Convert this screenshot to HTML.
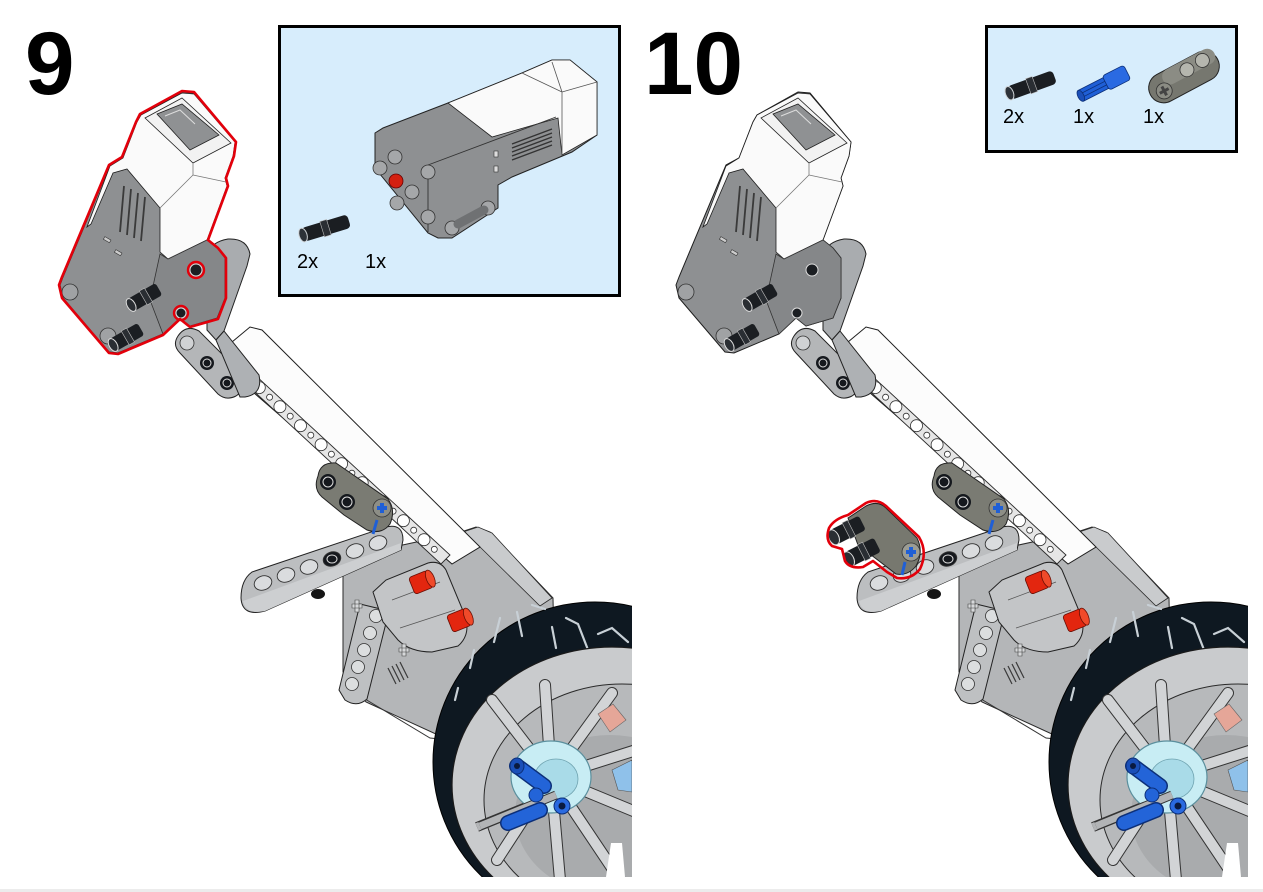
<!DOCTYPE html>
<html><head><meta charset="utf-8">
<style>
html,body{margin:0;padding:0;background:#fff;}
svg{display:block;}
</style></head><body>
<svg width="1263" height="892" viewBox="0 0 1263 892" xmlns="http://www.w3.org/2000/svg" font-family="'Liberation Sans', Arial, sans-serif">
<defs>
<clipPath id="pc"><rect x="0" y="0" width="632" height="877"/></clipPath>
<g id="model">
  <!-- rear housing -->
  <path d="M343,570 L398,546 L458,533 L476,527 L490,532 L553,598 L556,745 L438,735 L366,702 L343,672 Z" fill="#b4b6b8" stroke="#2a2a2a" stroke-width="1"/>
  <path d="M460,533 L478,527 L492,533 L552,598 L540,606 L478,545 Z" fill="#c9cbcd" stroke="#2a2a2a" stroke-width="0.8"/>
  <path d="M350,690 L430,738 L470,742" fill="none" stroke="#333" stroke-width="1"/>
  <!-- white long beam -->
  <path d="M232,342 L250,327 L262,330 L480,547 L452,564 L246,386 Z" fill="#fcfcfc" stroke="#1e1e1e" stroke-width="1"/>
  <!-- perforated strip -->
  <path d="M246,384 L441,564 L450,555 L255,375 Z" fill="#e6e6e6" stroke="#2a2a2a" stroke-width="0.9"/>
  <g fill="#fff" stroke="#333" stroke-width="0.8">
    <circle cx="259.3" cy="387.6" r="6"/><circle cx="279.9" cy="406.7" r="6"/><circle cx="300.5" cy="425.7" r="6"/>
    <circle cx="321.1" cy="444.7" r="6"/><circle cx="341.6" cy="463.7" r="6"/><circle cx="362.2" cy="482.7" r="6"/>
    <circle cx="382.8" cy="501.7" r="6"/><circle cx="403.4" cy="520.7" r="6"/><circle cx="424" cy="539.7" r="6"/>
    <circle cx="269.6" cy="397.2" r="3"/><circle cx="290.2" cy="416.2" r="3"/><circle cx="310.8" cy="435.2" r="3"/>
    <circle cx="331.4" cy="454.2" r="3"/><circle cx="351.9" cy="473.2" r="3"/><circle cx="372.5" cy="492.2" r="3"/>
    <circle cx="393.1" cy="511.2" r="3"/><circle cx="413.7" cy="530.2" r="3"/><circle cx="434.3" cy="549.3" r="3"/>
  </g>
  <!-- 7-hole beam -->
  <path d="M252,572 L386,527 Q403,523 403,540 L401,550 L265,611 Q242,617 241,598 Q241,580 252,572 Z" fill="#bcbec0" stroke="#222" stroke-width="1"/>
  <path d="M243,601 L401,543 L401,550 L265,611 Q246,615 243,601 Z" fill="#cdcfd1"/>
  <g stroke="#333" stroke-width="0.9" fill="#dadcde">
    <ellipse cx="263" cy="583" rx="9" ry="7" transform="rotate(-20 263 583)"/>
    <ellipse cx="286" cy="575" rx="9" ry="7" transform="rotate(-20 286 575)"/>
    <ellipse cx="309" cy="567" rx="9" ry="7" transform="rotate(-20 309 567)"/>
    <ellipse cx="332" cy="559" rx="9" ry="7" transform="rotate(-20 332 559)" fill="#15181d"/>
    <ellipse cx="355" cy="551" rx="9" ry="7" transform="rotate(-20 355 551)"/>
    <ellipse cx="378" cy="543" rx="9" ry="7" transform="rotate(-20 378 543)"/>
  </g>
  <ellipse cx="332" cy="559" rx="5" ry="4" fill="none" stroke="#ddd" stroke-width="1"/>
  <ellipse cx="318" cy="594" rx="7" ry="5" fill="#151515"/>
  <!-- vertical 5-hole beam -->
  <path d="M360,604 L389,611 L367,699 Q357,708 345,700 L339,690 Z" fill="#bec0c2" stroke="#222" stroke-width="1"/>
  <g fill="#dcdedf" stroke="#333" stroke-width="0.8">
    <circle cx="376" cy="616" r="6.5"/><circle cx="370" cy="633" r="6.5"/><circle cx="364" cy="650" r="6.5"/>
    <circle cx="358" cy="667" r="6.5"/><circle cx="352" cy="684" r="6.5"/>
  </g>
  <!-- H piece -->
  <path d="M373,592 L386,580 L428,563 Q440,560 446,570 L466,618 Q470,636 458,646 L432,652 Q410,652 398,640 L383,622 Z" fill="#c3c5c7" stroke="#222" stroke-width="1"/>
  <path d="M392,600 L440,582 M400,628 L455,610" stroke="#555" stroke-width="0.8" fill="none"/>
  <!-- axle stubs -->
  <path d="M352,604 h10 v4 h-10z M355,600 h4 v12 h-4z" fill="#d6d8da" stroke="#444" stroke-width="0.6"/>
  <path d="M399,648 h10 v4 h-10z M402,644 h4 v12 h-4z" fill="#d6d8da" stroke="#444" stroke-width="0.6"/>
  <path d="M388,668 L396,684 M392,666 L400,682 M396,664 L404,680 M400,662 L408,678" stroke="#3a3a3a" stroke-width="1.2"/>
  <!-- red bushes -->
  <g transform="translate(422,582) rotate(-22)"><rect x="-11" y="-9" width="20" height="18" rx="3" fill="#e3260f" stroke="#6a0f05" stroke-width="0.8"/><ellipse cx="9" cy="0" rx="4" ry="9" fill="#f04a2a" stroke="#6a0f05" stroke-width="0.8"/></g>
  <g transform="translate(460,620) rotate(-22)"><rect x="-11" y="-9" width="20" height="18" rx="3" fill="#e3260f" stroke="#6a0f05" stroke-width="0.8"/><ellipse cx="9" cy="0" rx="4" ry="9" fill="#f04a2a" stroke="#6a0f05" stroke-width="0.8"/></g>
  <!-- dark connector -->
  <path d="M318,476 Q320,462 336,463 L388,499 Q396,510 390,524 Q382,535 367,530 L344,515 L322,497 Q313,489 318,476 Z" fill="#7a7b73" stroke="#222" stroke-width="1"/>
  <circle cx="328" cy="482" r="8" fill="#15181d"/><circle cx="328" cy="482" r="5" fill="none" stroke="#ddd" stroke-width="1"/>
  <circle cx="347" cy="502" r="8" fill="#15181d"/><circle cx="347" cy="502" r="5" fill="none" stroke="#ddd" stroke-width="1"/>
  <circle cx="382" cy="508" r="9" fill="#8d8e86" stroke="#333" stroke-width="0.8"/>
  <path d="M377,506 h10 v4 h-10z M380,503 h4 v10 h-4z" fill="#1f5fd6"/>
  <line x1="377" y1="520" x2="373" y2="534" stroke="#1f5fd6" stroke-width="3"/>
  <!-- wheel -->
  <ellipse cx="595" cy="762" rx="162" ry="160" fill="#0e1821" stroke="#000" stroke-width="1"/>
  <g fill="none" stroke="#c8d0d6" stroke-width="2.2" stroke-linecap="round">
    <path d="M494,642 L500,618"/><path d="M517,612 L522,636"/><path d="M552,627 L556,648"/>
    <path d="M566,618 L578,624 L590,655"/><path d="M598,634 L612,628 L628,642"/>
    <path d="M613,673 L618,695"/><path d="M624,700 L629,716"/><path d="M532,605 L545,609"/>
    <path d="M470,668 L474,650"/><path d="M455,700 L458,688"/>
  </g>
  <ellipse cx="612" cy="785" rx="160" ry="138" fill="#c9cbcd" stroke="#1a1a1a" stroke-width="1.2"/>
  <ellipse cx="622" cy="800" rx="138" ry="116" fill="#b7b9bb" stroke="#2a2a2a" stroke-width="1"/>
  <ellipse cx="610" cy="815" rx="95" ry="80" fill="#a9abad"/>
  <g stroke-linecap="round">
    <g stroke="#333" stroke-width="12">
      <line x1="551" y1="777" x2="492" y2="700"/><line x1="551" y1="777" x2="545" y2="685"/>
      <line x1="551" y1="777" x2="612" y2="693"/><line x1="551" y1="777" x2="652" y2="745"/>
      <line x1="551" y1="777" x2="660" y2="822"/><line x1="551" y1="777" x2="620" y2="880"/>
      <line x1="551" y1="777" x2="560" y2="880"/><line x1="551" y1="777" x2="497" y2="860"/>
    </g>
    <g stroke="#d2d4d6" stroke-width="10">
      <line x1="551" y1="777" x2="492" y2="700"/><line x1="551" y1="777" x2="545" y2="685"/>
      <line x1="551" y1="777" x2="612" y2="693"/><line x1="551" y1="777" x2="652" y2="745"/>
      <line x1="551" y1="777" x2="660" y2="822"/><line x1="551" y1="777" x2="620" y2="880"/>
      <line x1="551" y1="777" x2="560" y2="880"/><line x1="551" y1="777" x2="497" y2="860"/>
    </g>
  </g>
  <path d="M606,877 L611,843 L622,843 L625,877 Z" fill="#fff"/>
  <path d="M598,714 L613,704 L626,720 L610,732 Z" fill="#e5a698" stroke="#666" stroke-width="0.6"/>
  <path d="M612,770 L632,760 L632,792 L618,790 Z" fill="#8fc1ea" stroke="#555" stroke-width="0.6"/>
  <!-- axle -->
  <line x1="477" y1="827" x2="556" y2="795" stroke="#333" stroke-width="10"/>
  <line x1="477" y1="827" x2="556" y2="795" stroke="#b2b4b6" stroke-width="8"/>
  <!-- hub -->
  <ellipse cx="551" cy="777" rx="40" ry="36" fill="#c8edf4" stroke="#5b8f9d" stroke-width="1.2"/>
  <ellipse cx="556" cy="779" rx="22" ry="20" fill="#a9dbe8" stroke="#6fa3b0" stroke-width="0.8"/>
  <line x1="480" y1="826" x2="556" y2="795" stroke="#333" stroke-width="9"/>
  <line x1="480" y1="826" x2="556" y2="795" stroke="#b2b4b6" stroke-width="7"/>
  <!-- blue pins -->
  <line x1="517" y1="766" x2="544" y2="786" stroke="#0c2f78" stroke-width="16" stroke-linecap="round"/>
  <line x1="517" y1="766" x2="544" y2="786" stroke="#2364d8" stroke-width="13" stroke-linecap="round"/>
  <ellipse cx="517" cy="766" rx="7" ry="8" fill="#1a4fb8" stroke="#0c2f78"/>
  <circle cx="517" cy="766" r="3" fill="#0a1a40"/>
  <circle cx="536" cy="795" r="7" fill="#2364d8" stroke="#0c2f78"/>
  <line x1="508" y1="823" x2="540" y2="810" stroke="#0c2f78" stroke-width="16" stroke-linecap="round"/>
  <line x1="508" y1="823" x2="540" y2="810" stroke="#2364d8" stroke-width="13" stroke-linecap="round"/>
  <circle cx="562" cy="806" r="8" fill="#2a6ae0" stroke="#0c2f78"/>
  <circle cx="562" cy="806" r="3.5" fill="#0a1a40"/>
  <!-- upright lever and short beam -->
  <path d="M207,256 Q210,242 228,239 Q247,238 250,254 L247,266 L224,331 L216,340 L207,330 Z" fill="#a9acaf" stroke="#222" stroke-width="1"/>
  <path d="M178,336 Q186,324 199,331 L241,373 Q247,389 236,396 Q226,401 218,394 L180,353 Q172,345 178,336 Z" fill="#b4b6b8" stroke="#222" stroke-width="1"/>
  <circle cx="187" cy="343" r="7" fill="#d0d2d4" stroke="#333" stroke-width="0.8"/>
  <circle cx="207" cy="363" r="7" fill="#15181d"/><circle cx="207" cy="363" r="4" fill="none" stroke="#ddd"/>
  <circle cx="227" cy="383" r="7" fill="#15181d"/><circle cx="227" cy="383" r="4" fill="none" stroke="#ddd"/>
  <path d="M216,340 L224,331 L259,375 Q263,394 245,397 L240,397 Z" fill="#aeb1b4" stroke="#222" stroke-width="1"/>
  <!-- motor -->
  <path d="M182,92 L194,93 L235,142 L233,156 L225,178 L227,186 L207,240 L217,248 L225,258 L225,298 L217,318 L190,326 L180,318 L163,334 L118,353 L109,352 L63,298 L60,285 L63,277 L110,165 L123,158 L137,122 L141,115 Z" fill="#8e9092" stroke="#1e1e1e" stroke-width="1"/>
  <path d="M141,115 L182,93 L194,94 L235,142 L233,156 L225,178 L227,186 L207,240 L168,259 L160,252 L160,208 L127,169 L113,173 L91,224 L87,227 L110,166 L123,158 L137,122 Z" fill="#fafafa" stroke="#1e1e1e" stroke-width="0.8"/>
  <path d="M145,118 L182,98 L231,143 L193,163 Z" fill="#f2f2f2" stroke="#222" stroke-width="0.8"/>
  <path d="M157,114 L182,104 L219,135 L190,150 Z" fill="#8f9193" stroke="#222" stroke-width="0.8"/>
  <path d="M165,116 L180,110 L195,124" fill="none" stroke="#ddd" stroke-width="1"/>
  <path d="M193,163 L193,175 L160,208 M193,175 L226,182" fill="none" stroke="#777" stroke-width="0.8"/>
  <path d="M160,254 L168,259 L207,240 L217,248 L225,258 L225,298 L217,318 L190,326 L180,318 L163,334 L150,300 Z" fill="#858789" stroke="#333" stroke-width="0.8"/>
  <g stroke="#3a3a3a" stroke-width="1.8">
    <line x1="124" y1="186" x2="120" y2="232"/><line x1="131" y1="189" x2="127" y2="235"/>
    <line x1="138" y1="193" x2="134" y2="238"/><line x1="145" y1="197" x2="141" y2="241"/>
  </g>
  <rect x="104" y="238" width="7" height="3" fill="#ccc" stroke="#333" stroke-width="0.6" transform="rotate(30 107 239)"/>
  <rect x="115" y="251" width="7" height="3" fill="#ccc" stroke="#333" stroke-width="0.6" transform="rotate(30 118 252)"/>
  <circle cx="70" cy="292" r="8" fill="#a0a2a4" stroke="#333" stroke-width="0.8"/>
  <circle cx="108" cy="336" r="8" fill="#a0a2a4" stroke="#333" stroke-width="0.8"/>
  <g transform="translate(145,297) rotate(-30)"><rect x="-16" y="-7" width="32" height="14" rx="3" fill="#1b1e22"/><rect x="-2" y="-8" width="6" height="16" fill="#2a2e33" stroke="#bbb" stroke-width="0.6"/><ellipse cx="-16" cy="0" rx="4" ry="7" fill="#2a2e33" stroke="#ddd" stroke-width="1"/></g>
  <g transform="translate(127,337) rotate(-30)"><rect x="-16" y="-7" width="32" height="14" rx="3" fill="#1b1e22"/><rect x="-2" y="-8" width="6" height="16" fill="#2a2e33" stroke="#bbb" stroke-width="0.6"/><ellipse cx="-16" cy="0" rx="4" ry="7" fill="#2a2e33" stroke="#ddd" stroke-width="1"/></g>
  <circle cx="196" cy="270" r="6" fill="#1b1e22" stroke="#ddd" stroke-width="1"/>
  <circle cx="181" cy="313" r="5" fill="#1b1e22" stroke="#ddd" stroke-width="1"/>
</g>
</defs>

<!-- step numbers -->
<text x="25" y="94" font-size="89" font-weight="bold" fill="#000">9</text>
<text x="644" y="94" font-size="89" font-weight="bold" fill="#000">10</text>

<!-- panel 9 model -->
<g clip-path="url(#pc)"><use href="#model"/></g>
<!-- panel 10 model -->
<g transform="translate(616,0)" clip-path="url(#pc)"><use href="#model"/></g>

<!-- panel 9 red highlight on motor -->
<path d="M182,91 L194,92 L236,142 L234,156 L226,178 L228,186 L208,240 L218,248 L226,258 L226,298 L218,319 L190,327 L180,319 L163,335 L118,354 L109,353 L62,298 L59,285 L62,277 L109,165 L122,157 L136,122 L140,114 Z" fill="none" stroke="#e3000b" stroke-width="2.6" stroke-linejoin="round"/>
<circle cx="196" cy="270" r="8" fill="none" stroke="#e3000b" stroke-width="2.4"/>
<circle cx="181" cy="313" r="7" fill="none" stroke="#e3000b" stroke-width="2.4"/>

<!-- panel 10 new connector -->
<path d="M848,518 L866,506 Q878,500 886,508 L917,538 Q924,552 916,566 Q908,576 896,574 L858,545 Z" fill="#77786f" stroke="#222" stroke-width="1"/>
<circle cx="911" cy="552" r="9" fill="#9b9c94" stroke="#333" stroke-width="0.8"/>
<path d="M906,550 h10 v4 h-10z M909,547 h4 v10 h-4z" fill="#1f5fd6"/>
<line x1="905" y1="562" x2="902" y2="575" stroke="#1f5fd6" stroke-width="3"/>
<g transform="translate(848,530) rotate(-27)"><rect x="-16" y="-8" width="32" height="16" rx="3" fill="#1b1e22"/><rect x="-2" y="-9" width="6" height="18" fill="#2a2e33" stroke="#bbb" stroke-width="0.6"/><ellipse cx="-16" cy="0" rx="5" ry="8" fill="#2a2e33" stroke="#ddd" stroke-width="1"/></g>
<g transform="translate(863,552) rotate(-27)"><rect x="-16" y="-8" width="32" height="16" rx="3" fill="#1b1e22"/><rect x="-2" y="-9" width="6" height="18" fill="#2a2e33" stroke="#bbb" stroke-width="0.6"/><ellipse cx="-16" cy="0" rx="5" ry="8" fill="#2a2e33" stroke="#ddd" stroke-width="1"/></g>
<path d="M829,528 Q834,519 848,515 L866,503 Q877,498 886,506 L919,537 Q928,552 920,569 Q911,580 897,578 L887,572 L873,561 L863,567 Q850,569 845,561 L842,549 L832,546 Q825,540 829,528 Z" fill="none" stroke="#e3000b" stroke-width="2.6" stroke-linejoin="round"/>

<!-- parts box 1 -->
<rect x="279.5" y="26.5" width="340" height="269" fill="#d7edfc" stroke="#000" stroke-width="3"/>
<path d="M375,133 L383,128 L448,103 L522,73 L552,60 L570,60 L597,82 L597,135 L572,152 L512,177 L498,185 L498,208 L452,238 L438,238 L428,233 L375,168 Z" fill="#8e9092" stroke="#222" stroke-width="1"/>
<path d="M448,103 L522,73 L552,60 L570,60 L597,82 L597,135 L562,155 L558,118 L492,137 Z" fill="#fafafa" stroke="#222" stroke-width="0.8"/>
<path d="M552,62 L562,92 L562,155 M562,92 L597,82 M522,73 L562,92" fill="none" stroke="#555" stroke-width="0.8"/>
<path d="M428,165 L556,117 M428,165 L428,232" fill="none" stroke="#333" stroke-width="0.9"/>
<g stroke="#333" stroke-width="1.4">
  <line x1="512" y1="144" x2="552" y2="129"/><line x1="512" y1="148" x2="552" y2="133"/>
  <line x1="512" y1="152" x2="552" y2="137"/><line x1="512" y1="156" x2="552" y2="141"/>
  <line x1="512" y1="160" x2="552" y2="145"/>
</g>
<rect x="494" y="151" width="4" height="6" fill="#ddd" stroke="#333" stroke-width="0.6"/>
<rect x="494" y="166" width="4" height="6" fill="#ddd" stroke="#333" stroke-width="0.6"/>
<g fill="#a5a7a9" stroke="#333" stroke-width="0.8">
  <circle cx="380" cy="168" r="7"/><circle cx="395" cy="157" r="7"/><circle cx="412" cy="192" r="7"/>
  <circle cx="397" cy="203" r="7"/><circle cx="428" cy="172" r="7"/><circle cx="428" cy="217" r="7"/>
  <circle cx="452" cy="228" r="7"/><circle cx="488" cy="208" r="7"/>
</g>
<circle cx="396" cy="181" r="7" fill="#d42010" stroke="#600" stroke-width="0.8"/>
<path d="M458,224 L484,210" stroke="#6f7173" stroke-width="9" stroke-linecap="round"/>
<g transform="translate(326,228) rotate(-17)"><rect x="-24" y="-7" width="48" height="14" rx="4" fill="#1b1e22"/><rect x="-4" y="-8" width="7" height="16" fill="#2a2e33" stroke="#bbb" stroke-width="0.6"/><ellipse cx="-24" cy="0" rx="4" ry="7" fill="#2d3238" stroke="#cfd3d6" stroke-width="1"/></g>
<text x="297" y="268" font-size="20" fill="#000">2x</text>
<text x="365" y="268" font-size="20" fill="#000">1x</text>

<!-- parts box 2 -->
<rect x="986.5" y="26.5" width="250" height="125" fill="#d7edfc" stroke="#000" stroke-width="3"/>
<g transform="translate(1032,85) rotate(-20)"><rect x="-24" y="-7" width="48" height="14" rx="4" fill="#1b1e22"/><rect x="-4" y="-8" width="7" height="16" fill="#2a2e33" stroke="#bbb" stroke-width="0.6"/><ellipse cx="-24" cy="0" rx="4" ry="7" fill="#2d3238" stroke="#cfd3d6" stroke-width="1"/></g>
<g transform="translate(1104,84) rotate(-27)"><rect x="-26" y="-6" width="30" height="12" fill="#1f5fd6" stroke="#0c2f78" stroke-width="0.8"/><line x1="-24" y1="-2" x2="2" y2="-2" stroke="#0c2f78" stroke-width="0.8"/><line x1="-24" y1="2" x2="2" y2="2" stroke="#0c2f78" stroke-width="0.8"/><rect x="2" y="-8" width="24" height="16" rx="3" fill="#2a6ae2" stroke="#0c2f78" stroke-width="0.8"/><ellipse cx="-26" cy="0" rx="3" ry="6" fill="#1a4fb8" stroke="#0c2f78" stroke-width="0.8"/></g>
<g transform="translate(1184,77) rotate(-28)"><rect x="-38" y="-15" width="76" height="30" rx="15" fill="#76776f" stroke="#222" stroke-width="1"/><rect x="-20" y="-15" width="58" height="16" rx="8" fill="#8b8c84"/><circle cx="6" cy="-5" r="7" fill="#b5b6ae" stroke="#333" stroke-width="0.8"/><circle cx="24" cy="-6" r="7" fill="#b5b6ae" stroke="#333" stroke-width="0.8"/><circle cx="-24" cy="3" r="8" fill="#8b8c84" stroke="#333" stroke-width="0.8"/><path d="M-29,1.5 h10 v3 h-10z M-25.5,-2 h3 v10 h-3z" fill="#444"/></g>
<text x="1003" y="123" font-size="20" fill="#000">2x</text>
<text x="1073" y="123" font-size="20" fill="#000">1x</text>
<text x="1143" y="123" font-size="20" fill="#000">1x</text>

<!-- bottom strip -->
<rect x="0" y="889" width="1263" height="3" fill="#ececec"/>
</svg>
</body></html>
